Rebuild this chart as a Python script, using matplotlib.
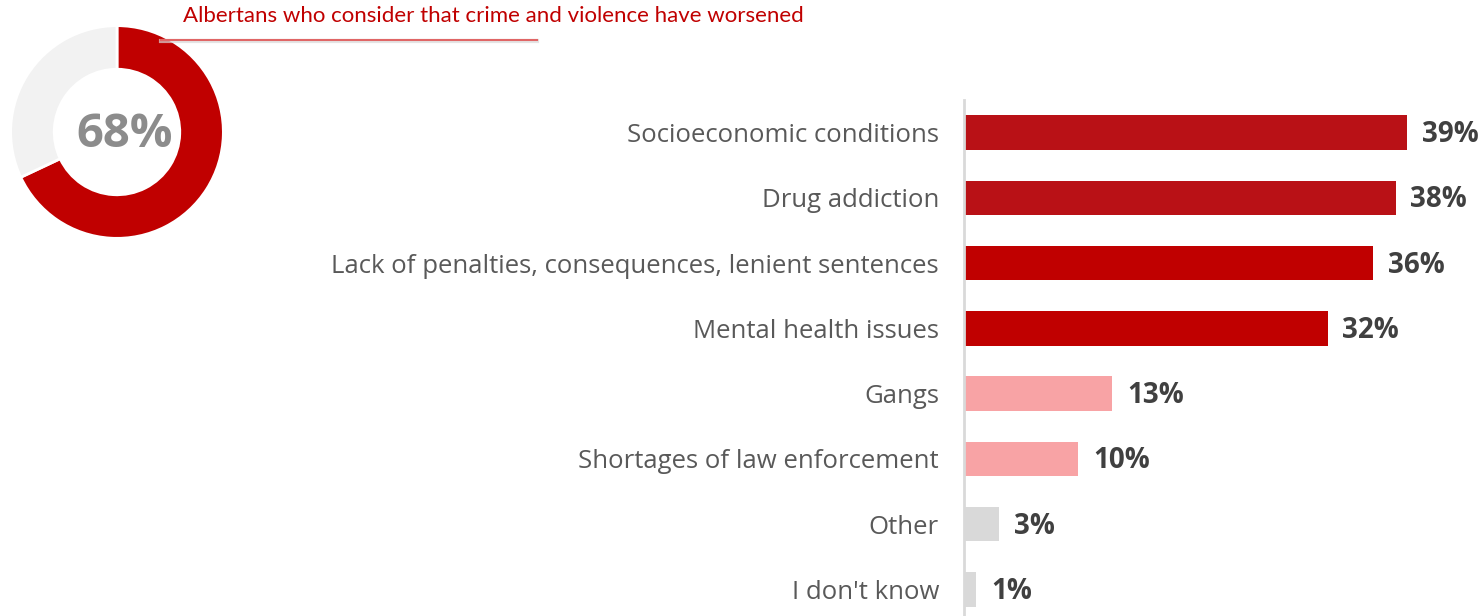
import matplotlib
matplotlib.use("Agg")
import matplotlib.pyplot as plt

# data
categories = [
    "Socioeconomic conditions",
    "Drug addiction",
    "Lack of penalties, consequences, lenient sentences",
    "Mental health issues",
    "Gangs",
    "Shortages of law enforcement",
    "Other",
    "I don't know",
]
values = [39, 38, 36, 32, 13, 10, 3, 1]
donut_share = [68, 32]
donut_label = "68%"
title = "Albertans who consider that crime and violence have worsened"

W, H = 1482, 616
fig = plt.figure(figsize=(W / 100, H / 100), dpi=100, facecolor="white")

label_c = "#595959"
value_c = "#404040"
bar_colors = ["#B91116", "#B91116", "#C00000", "#C00000",
              "#F8A3A5", "#F8A3A5", "#D9D9D9", "#D9D9D9"]

# bar panel
ax = fig.add_axes([964 / W, -2 / H, (W - 964) / W, (516 + 2) / H])
ypos = list(range(len(categories)))
ax.barh(ypos, values, height=0.53, color=bar_colors, left=0.1)
ax.set_ylim(7.44, -0.5)
ax.set_xlim(0, (W - 964) / 11.33)
ax.set_yticks(ypos)
ax.set_yticklabels(categories, fontsize=18.5, color=label_c, family="Open Sans")
ax.tick_params(axis="y", length=0, pad=18)
ax.set_xticks([])
for s in ["top", "right", "bottom"]:
    ax.spines[s].set_visible(False)
ax.spines["left"].set_color("#D9D9D9")
ax.spines["left"].set_linewidth(2)
for y, v in zip(ypos, values):
    ax.text(v + 1.4, y + 0.03, f"{v}%", va="center", ha="left", fontsize=20,
            fontweight="bold", color=value_c, family="Open Sans")

# donut
cx, cy, r = 117, H - 132, 117
dax = fig.add_axes([(cx - r) / W, (cy - r) / H, 2 * r / W, 2 * r / H])
dax.pie(donut_share, colors=["#C00000", "#F2F2F2"], startangle=90,
        counterclock=False, radius=1.0,
        wedgeprops=dict(width=0.41, edgecolor="white", linewidth=2))
dax.set_xlim(-1.1, 1.1)
dax.set_ylim(-1.1, 1.1)
dax.set_aspect("equal")
dax.axis("off")
dax.text(0.07, -0.02, donut_label, ha="center", va="center", fontsize=34,
         fontweight="bold", color="#8C8C8C", family="Open Sans")

# title and underline
fig.text(183 / W, 1 - 16 / H, title, ha="left", va="center", fontsize=16,
         color="#C00000", family="Lato")
fig.add_artist(plt.Line2D([161 / W, 537 / W], [1 - 41 / H, 1 - 41 / H],
                          color="#D9D9D9", linewidth=3, alpha=0.7))
fig.add_artist(plt.Line2D([161 / W, 537 / W], [1 - 40 / H, 1 - 40 / H],
                          color="#E06666", linewidth=1.5))

fig.savefig("out.png", dpi=100, facecolor="white")
